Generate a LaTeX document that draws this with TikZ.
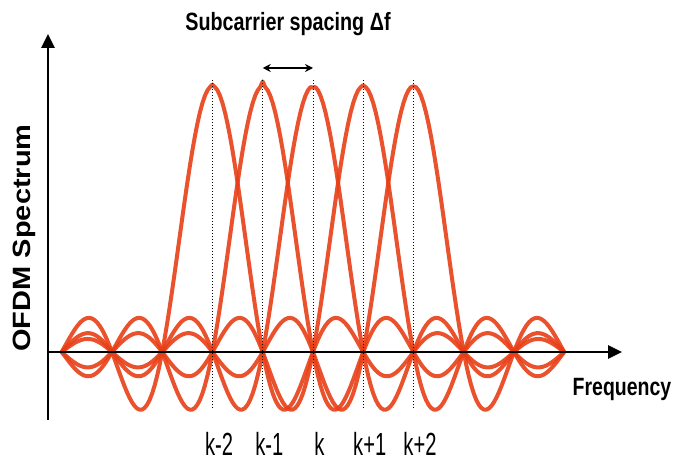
\documentclass[tikz,border=0pt]{standalone}
\usepackage{fontspec}
\setmainfont{Liberation Sans}
\usepackage{graphicx}
\usetikzlibrary{arrows.meta}
\definecolor{carrier}{RGB}{232,62,22}

\begin{document}
\begin{tikzpicture}[x=1pt,y=1pt,
  declare function={sinc(\t)=sin(180*(\t+0.001))/(pi*(\t+0.001));},
  axis/.style={line width=2.6pt, -{Triangle[length=14pt,width=13pt]}},
  sub/.style={line width=4pt, draw=carrier, draw opacity=0.9, line join=round},
  guide/.style={dotted, line width=1pt},
  lbl/.style={font=\fontsize{25}{28}\selectfont\bfseries, inner sep=0pt},
  klbl/.style={font=\fontsize{32}{34}\selectfont, inner sep=0pt, anchor=base}]
\useasboundingbox (-48,-111) rectangle (629,352);
\def\df{50.25}
\def\kx{265}
\def\pk{266}
% subcarrier spectra
\foreach \j in {-2,...,2}
  \draw[sub] plot[domain=-5:5, samples=201] ({\kx+\df*\x},{\pk*sinc((\x)-(\j))});
% carrier positions
\foreach \j/\lab in {-2/k-2,-1/k-1,0/k,1/k+1,2/k+2} {
  \coordinate (top\j) at ({\kx+\df*\j},272);
  \coordinate (bot\j) at ({\kx+\df*\j},-56);
  \draw[guide] (top\j) -- (bot\j);
  \node[klbl] (lab\j) at ({\kx+\df*\j+6.5},-103) {\scalebox{0.63}[1]{\lab}};
}
% axes
\coordinate (o) at (0,0);
\coordinate (xend) at (574,0);
\coordinate (ybot) at (0,-68);
\coordinate (ytop) at (0,318);
\draw[axis] (o) -- (xend);
\draw[axis] (ybot) -- (ytop);
\node[lbl, anchor=base] (freq) at (574,-43) {\scalebox{0.78}[1]{Frequency}};
\node[lbl, rotate=90] (spec) at (-24,114) {\scalebox{1.16}[1]{OFDM Spectrum}};
% spacing
\node[lbl, anchor=base] (title) at (240,321) {\scalebox{0.79}[1]{Subcarrier spacing Δf}};
\coordinate (s1) at ({\kx-\df},284);
\coordinate (s2) at (\kx,284);
\draw[line width=1.5pt, {Stealth[length=8pt,width=8pt]}-{Stealth[length=8pt,width=8pt]}] (s1) -- (s2);
\end{tikzpicture}
\end{document}
